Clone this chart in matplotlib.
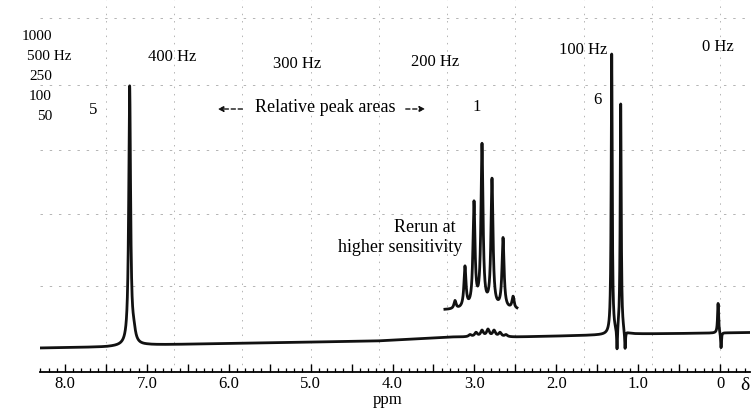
import numpy as np
import matplotlib
matplotlib.use("Agg")
import matplotlib.pyplot as plt
from matplotlib.ticker import MultipleLocator, FuncFormatter

plt.rcParams['font.family'] = ['Liberation Serif', 'DejaVu Serif']

# Baseline drift of the recorder trace (ppm, signal)
baseline_ppm = [8.31, 7.5, 7.0, 5.7, 4.2, 3.3, 2.5, 1.4, 1.0, 0.0, -0.37]
baseline_level = [0, 1, 3, 5, 7, 11, 11, 13, 14, 15, 15.5]

# Main spectrum peaks (ppm, height, width); negative heights = ringing dips
peak_ppm = [7.21, 7.16, 1.323, 1.213, 1.258, 1.16, 0.024, -0.012]
peak_height = [258, 10, 280, 230, -24, -19, 30, -16]
peak_width = [0.027, 0.05, 0.015, 0.015, 0.012, 0.012, 0.015, 0.012]

# CH septet as recorded on the main trace
septet_ppm = [3.053, 2.98, 2.907, 2.834, 2.76, 2.687, 2.614]
septet_height = [2, 4, 6, 7, 6, 4, 2]

# CH septet rerun at higher sensitivity (inset)
rerun_ppm = [3.237, 3.115, 3.005, 2.907, 2.785, 2.65, 2.528]
rerun_height = [8, 41, 104, 162, 128, 70, 12]

# Top frequency scale labels (Hz) and sweep widths
hz_labels = ["400 Hz", "300 Hz", "200 Hz", "100 Hz", "0 Hz"]
hz_ppm = [6.693, 5.166, 3.481, 1.673, 0.024]
sweep_labels = ["1000", "500 Hz", "250", "100", "50"]

# Relative peak areas
area_labels = ["5", "1", "6"]
area_ppm = [7.658, 2.968, 1.502]


def lorentz(x, c, h, w):
    return h / (1 + ((x - c) / (w / 2)) ** 2)


fig = plt.figure(figsize=(7.53, 4.08), dpi=100)
ax = fig.add_axes([40 / 753, 36 / 408, 710 / 753, 372 / 408])
ax.set_xlim(8.305, -0.366)
ax.set_ylim(-24, 348)

# faint chart paper grid (50 Hz divisions)
for k in range(10):
    ax.axvline(k * 50 / 60, color="#b4b4b4", lw=0.7, ls=(0, (1.5, 6)), zorder=0)
for yy in [330, 263, 198, 134, 62]:
    ax.axhline(yy, color="#b4b4b4", lw=0.7, ls=(0, (2.5, 7)), zorder=0)

# main trace
x = np.linspace(8.305, -0.366, 14000)
y = np.interp(x, baseline_ppm[::-1], baseline_level[::-1])
for c, h, w in zip(peak_ppm, peak_height, peak_width):
    y = y + lorentz(x, c, h, w)
for c, h in zip(septet_ppm, septet_height):
    y = y + lorentz(x, c, h, 0.04)
ax.plot(x, y, color="#111111", lw=2.0, solid_joinstyle="round", zorder=3)

# inset rerun
xi = np.linspace(3.36, 2.48, 1500)
yi = np.full_like(xi, 38.0)
for c, h in zip(rerun_ppm, rerun_height):
    yi = yi + lorentz(xi, c, h, 0.03)
ax.plot(xi, yi, color="#111111", lw=2.0, solid_joinstyle="round", zorder=3)

# ruler along the bottom
for s in ["top", "left", "right"]:
    ax.spines[s].set_visible(False)
ax.spines["bottom"].set_linewidth(1.3)
ax.yaxis.set_visible(False)
ax.xaxis.set_major_locator(MultipleLocator(0.5))
ax.xaxis.set_minor_locator(MultipleLocator(0.1))


def ppm_fmt(v, pos):
    if abs(v - round(v)) < 1e-6:
        return "0" if round(v) == 0 else f"{v:.1f}"
    return ""


ax.xaxis.set_major_formatter(FuncFormatter(ppm_fmt))
ax.tick_params(axis="x", which="major", direction="in", length=6, width=1.0,
               pad=3, labelsize=12)
ax.tick_params(axis="x", which="minor", direction="in", length=3, width=0.9)

# text annotations
fs = 12
hz_y = [291, 284, 286, 298, 301]
for lab, xx, yy in zip(hz_labels, hz_ppm, hz_y):
    ax.text(xx, yy, lab, ha="center", va="center", fontsize=fs)

sweep_y = [311, 291, 271, 251, 232]
for lab, yy in zip(sweep_labels, sweep_y):
    if lab.endswith("Hz"):
        ax.text(8.464, yy, lab, ha="left", va="center", fontsize=11)
    else:
        ax.text(8.159, yy, lab, ha="right", va="center", fontsize=11)

area_y = [238, 241, 248]
for lab, xx, yy in zip(area_labels, area_ppm, area_y):
    ax.text(xx, yy, lab, ha="center", va="center", fontsize=fs)

ax.text(4.824, 240, "Relative peak areas", ha="center", va="center", fontsize=13)
arrow = dict(arrowstyle="-|>", color="#111111", lw=1.0, ls=(0, (3, 2)),
             mutation_scale=8)
ax.annotate("", xy=(6.168, 239), xytext=(5.80, 239), arrowprops=arrow)
ax.annotate("", xy=(3.567, 239), xytext=(3.872, 239), arrowprops=arrow)

ax.text(3.224, 121, "Rerun at", ha="right", va="center", fontsize=13)
ax.text(3.151, 101, "higher sensitivity", ha="right", va="center", fontsize=13)

ax.text(-0.305, -37, "δ", ha="center", va="center", fontsize=14)
fig.text(388 / 753, 1 - 400 / 408, "ppm", ha="center", va="center", fontsize=12)

fig.savefig("out.png", dpi=100)
